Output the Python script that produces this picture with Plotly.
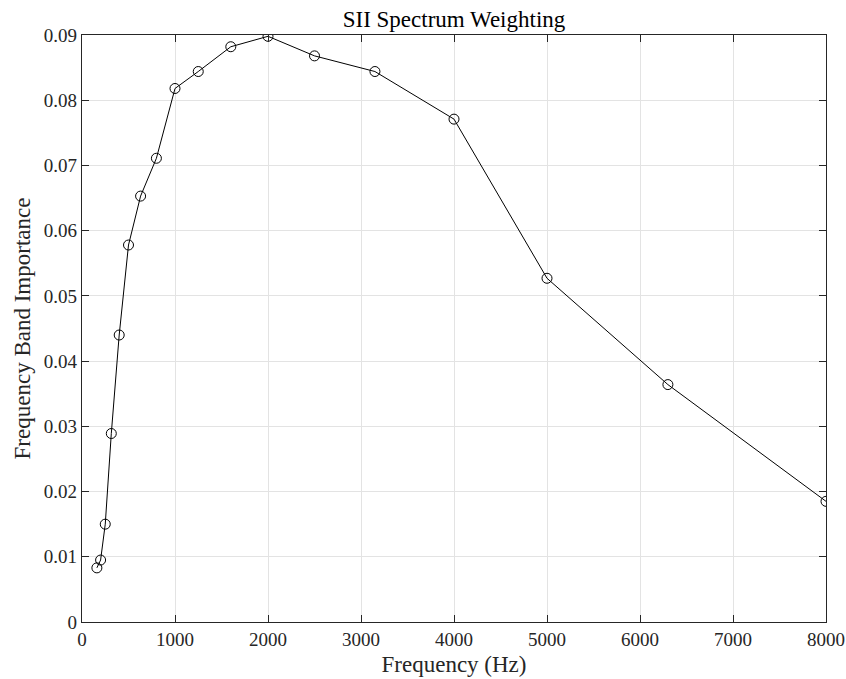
import plotly.graph_objects as go

# One-third octave band centre frequencies (Hz) and SII band importance
freq_hz = [160, 200, 250, 315, 400, 500, 630, 800, 1000, 1250,
           1600, 2000, 2500, 3150, 4000, 5000, 6300, 8000]
importance = [0.0083, 0.0095, 0.0150, 0.0289, 0.0440, 0.0578, 0.0653,
              0.0711, 0.0818, 0.0844, 0.0882, 0.0898, 0.0868, 0.0844,
              0.0771, 0.0527, 0.0364, 0.0185]

x_ticks = [0, 1000, 2000, 3000, 4000, 5000, 6000, 7000, 8000]
y_ticks = [0, 0.01, 0.02, 0.03, 0.04, 0.05, 0.06, 0.07, 0.08, 0.09]
y_tick_text = ["0", "0.01", "0.02", "0.03", "0.04", "0.05", "0.06",
               "0.07", "0.08", "0.09"]

FONT = "Liberation Serif"
AXIS_COLOR = "#262626"
GRID_COLOR = "#e3e3e3"

fig = go.Figure()
fig.add_trace(go.Scatter(
    x=freq_hz, y=importance,
    mode="lines+markers",
    line=dict(color="black", width=1),
    marker=dict(symbol="circle-open", size=10, color="black",
                line=dict(width=1, color="black")),
    showlegend=False,
))

axis_common = dict(
    showline=True, linecolor=AXIS_COLOR, linewidth=1.3,
    mirror="ticks", ticks="inside", ticklen=7, tickwidth=1.3,
    tickcolor=AXIS_COLOR, showgrid=True, gridcolor=GRID_COLOR,
    gridwidth=1, zeroline=False, automargin=False,
    tickfont=dict(family=FONT, size=19, color=AXIS_COLOR),
)

fig.update_xaxes(
    range=[0, 8000], tickvals=x_ticks, ticktext=[str(v) for v in x_ticks],
    title=dict(text="Frequency (Hz)", font=dict(family=FONT, size=23, color=AXIS_COLOR),
               standoff=6),
    **axis_common,
)
fig.update_yaxes(
    range=[0, 0.09], tickvals=y_ticks, ticktext=y_tick_text,
    title=dict(text="Frequency Band Importance",
               font=dict(family=FONT, size=23, color=AXIS_COLOR), standoff=6),
    **axis_common,
)

fig.update_layout(
    width=846, height=679,
    margin=dict(l=82, r=20, t=35, b=57),
    plot_bgcolor="white", paper_bgcolor="white",
    title=dict(text="SII Spectrum Weighting", x=0.5, xref="paper",
               y=1, yref="paper", yanchor="bottom", pad=dict(b=8),
               font=dict(family=FONT, size=23, color="black")),
)

fig.write_html("out.html")
